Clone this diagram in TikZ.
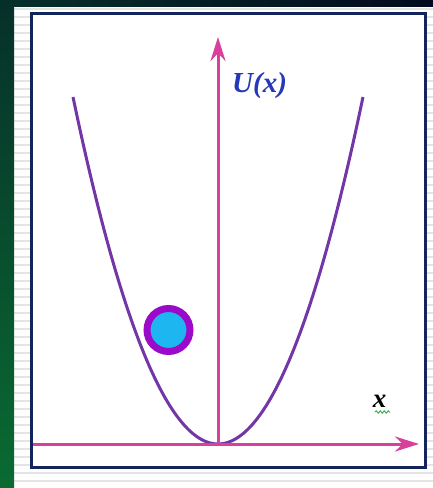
\documentclass[tikz,border=0pt]{standalone}
\usepackage{fontspec}
\setmainfont{Liberation Serif}
\usetikzlibrary{arrows.meta,decorations.pathmorphing}
\definecolor{stripteal}{HTML}{06302A}
\definecolor{stripgreen}{HTML}{0A6B32}
\definecolor{topnavy}{HTML}{020A1E}
\definecolor{framenavy}{HTML}{13245A}
\definecolor{axispink}{HTML}{D8409C}
\definecolor{parabpurple}{HTML}{7236A6}
\definecolor{ringpurple}{HTML}{9A0AC8}
\definecolor{ballcyan}{HTML}{1EB6F0}
\definecolor{labelblue}{HTML}{2438B8}
\definecolor{stripegray}{HTML}{E4E4E4}
\definecolor{squiggle}{HTML}{3FAF4F}
\tikzset{
  axis/.style={draw=axispink, line width=3pt, -{Stealth[length=24pt,width=15pt]}},
  curve/.style={draw=parabpurple, line width=3pt, line join=round},
  ball/.style={circle, draw=ringpurple, line width=7pt, fill=ballcyan, minimum size=43pt, inner sep=0pt},
  biglabel/.style={font=\fontsize{29}{33}\selectfont\bfseries\itshape, inner sep=0pt},
  xlab/.style={font=\fontsize{27}{31}\selectfont\bfseries\itshape, inner sep=0pt},
}
\begin{document}
\begin{tikzpicture}[x=1pt,y=-1pt]
\useasboundingbox (0,0) rectangle (433,488);
% background
\fill[white] (14,6) rectangle (433,488);
\foreach \k in {0,...,60} {
  \draw[stripegray, line width=1.4pt] (14,{9+8*\k}) -- (433,{9+8*\k});
}
\shade[top color=stripteal, bottom color=stripgreen] (0,0) rectangle (14,488);
\shade[left color=stripteal, right color=topnavy] (0,0) rectangle (433,6);
% frame
\draw[framenavy, line width=3pt, fill=white] (31.5,13.5) rectangle (425.5,467.5);
% coordinates
\coordinate (O) at (218,444);
\coordinate (ytip) at (218,37);
\coordinate (xstart) at (33,444);
\coordinate (xtip) at (419,444);
% parabola
\draw[curve] plot[smooth, samples=61, domain=-145:145, variable=\t] ({218+\t},{444-347*(\t/145)^2});
% axes
\draw[axis] (O) -- (ytip);
\draw[axis] (xstart) -- (xtip);
% labels
\node[biglabel, text=labelblue, anchor=west] (ulabel) at (232,86) {U(x)};
\node[xlab, text=black] (xlabel) at (379.5,401) {x};
\draw[squiggle, line width=1pt, decorate, decoration={snake, segment length=4pt, amplitude=1.2pt}] (375,412) -- (390,412);
% ball
\node[ball] (ball) at (168.5,330) {};
\end{tikzpicture}
\end{document}
